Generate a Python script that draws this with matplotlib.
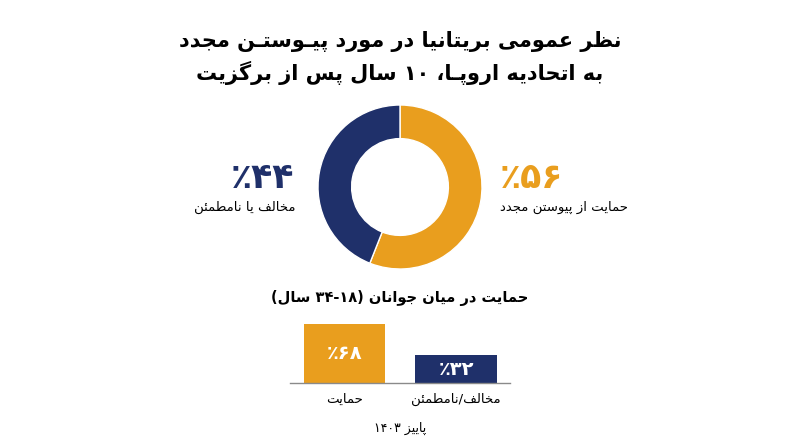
import matplotlib
matplotlib.use("Agg")
import matplotlib.pyplot as plt

# داده‌ها
title_lines = ["نظر عمومی بریتانیا در مورد پیـوستـن مجدد",
               "به اتحادیه اروپـا، ۱۰ سال پس از برگزیت"]
overall_labels = ["حمایت از پیوستن مجدد", "مخالف یا نامطمئن"]
overall_values = [56, 44]
youth_title = "حمایت در میان جوانان (۱۸-۳۴ سال)"
youth_labels = ["حمایت", "مخالف/نامطمئن"]
youth_values = [68, 32]
footer = "پاییز ۱۴۰۳"

ORANGE = "#E99E1E"
NAVY = "#1F306A"

# شکل‌دهی حروف فارسی (matplotlib خودش این کار را نمی‌کند)
DUAL = {'ئ': 0xFE89, 'ب': 0xFE8F, 'ت': 0xFE95, 'ث': 0xFE99, 'ج': 0xFE9D,
        'ح': 0xFEA1, 'خ': 0xFEA5, 'س': 0xFEB1, 'ش': 0xFEB5, 'ص': 0xFEB9,
        'ض': 0xFEBD, 'ط': 0xFEC1, 'ظ': 0xFEC5, 'ع': 0xFEC9, 'غ': 0xFECD,
        'ف': 0xFED1, 'ق': 0xFED5, 'ك': 0xFED9, 'ل': 0xFEDD, 'م': 0xFEE1,
        'ن': 0xFEE5, 'ه': 0xFEE9, 'ي': 0xFEF1, 'پ': 0xFB56, 'چ': 0xFB7A,
        'ک': 0xFB8E, 'گ': 0xFB92, 'ی': 0xFBFC}
RIGHT = {'آ': 0xFE81, 'أ': 0xFE83, 'ؤ': 0xFE85, 'إ': 0xFE87, 'ا': 0xFE8D,
         'ة': 0xFE93, 'د': 0xFEA9, 'ذ': 0xFEAB, 'ر': 0xFEAD, 'ز': 0xFEAF,
         'و': 0xFEED, 'ژ': 0xFB8A}
TATWEEL = 'ـ'
DIGITS = "۰۱۲۳۴۵۶۷۸۹0123456789"


def fa_num(n):
    return "".join("۰۱۲۳۴۵۶۷۸۹"[int(d)] for d in str(n))


def shape(s):
    out = []
    for i, ch in enumerate(s):
        prev = s[i - 1] if i > 0 else ""
        nxt = s[i + 1] if i + 1 < len(s) else ""
        pj = prev in DUAL or prev == TATWEEL
        if ch in DUAL:
            nj = nxt in DUAL or nxt in RIGHT or nxt == TATWEEL
            idx = {(False, False): 0, (True, False): 1,
                   (False, True): 2, (True, True): 3}[(pj, nj)]
            out.append(chr(DUAL[ch] + idx))
        elif ch in RIGHT:
            out.append(chr(RIGHT[ch] + (1 if pj else 0)))
        else:
            out.append(ch)
    return "".join(out)


def rtl(s):
    r = shape(s)[::-1]
    # اعداد چپ به راست می‌مانند
    res, run = [], ""
    for ch in r:
        if ch in DIGITS:
            run += ch
        else:
            res.append(run[::-1])
            run = ""
            res.append({"(": ")", ")": "("}.get(ch, ch))
    res.append(run[::-1])
    return "".join(res)


plt.rcParams['font.family'] = ['DejaVu Sans']

W, H = 800, 447
fig = plt.figure(figsize=(8, 4.47), dpi=100)
fig.patch.set_facecolor("white")


def put(x, y, s, **kw):
    fig.text(x / W, 1 - y / H, rtl(s), **kw)


put(400, 41, title_lines[0], ha="center", va="center", fontsize=15, fontweight="bold")
put(400, 73, title_lines[1], ha="center", va="center", fontsize=15, fontweight="bold")

# دونات
cx, cy, r = 400, 187, 82
ax = fig.add_axes([(cx - r) / W, 1 - (cy + r) / H, 2 * r / W, 2 * r / H])
ax.pie(overall_values, colors=[ORANGE, NAVY], startangle=90, counterclock=False,
       wedgeprops=dict(width=0.41, edgecolor="white", linewidth=1))
ax.set_xlim(-1, 1)
ax.set_ylim(-1, 1)
ax.set_aspect("equal")

put(500, 178, fa_num(overall_values[0]) + "٪", ha="left", va="center",
    fontsize=25, fontweight="bold", color=ORANGE)
put(500, 207, overall_labels[0], ha="left", va="center", fontsize=9.5)
put(294, 178, fa_num(overall_values[1]) + "٪", ha="right", va="center",
    fontsize=25, fontweight="bold", color=NAVY)
put(296, 207, overall_labels[1], ha="right", va="center", fontsize=9.5)

put(400, 298, youth_title, ha="center", va="center", fontsize=10.5, fontweight="bold")

# ستون‌ها
bx = fig.add_axes([290 / W, 1 - 383 / H, 220 / W, 68 / H])
xs = [0, 1]
bx.bar(xs, youth_values, width=0.73, color=[ORANGE, NAVY])
bx.set_xlim(-0.489, 1.484)
bx.set_ylim(0, 68 * 68 / 59)
for s in ["top", "right", "left"]:
    bx.spines[s].set_visible(False)
bx.spines["bottom"].set_color("#8a8a8a")
bx.spines["bottom"].set_linewidth(1)
bx.set_yticks([])
bx.set_xticks(xs, [rtl(t) for t in youth_labels], fontsize=9.5)
bx.tick_params(axis="x", length=0, pad=7)
bx.patch.set_alpha(0)
for x, v in zip(xs, youth_values):
    bx.text(x, v / 2, rtl(fa_num(v) + "٪"), ha="center", va="center",
            color="white", fontsize=14, fontweight="bold")

put(400, 428, footer, ha="center", va="center", fontsize=9)

fig.savefig("out.png", dpi=100, facecolor="white")
